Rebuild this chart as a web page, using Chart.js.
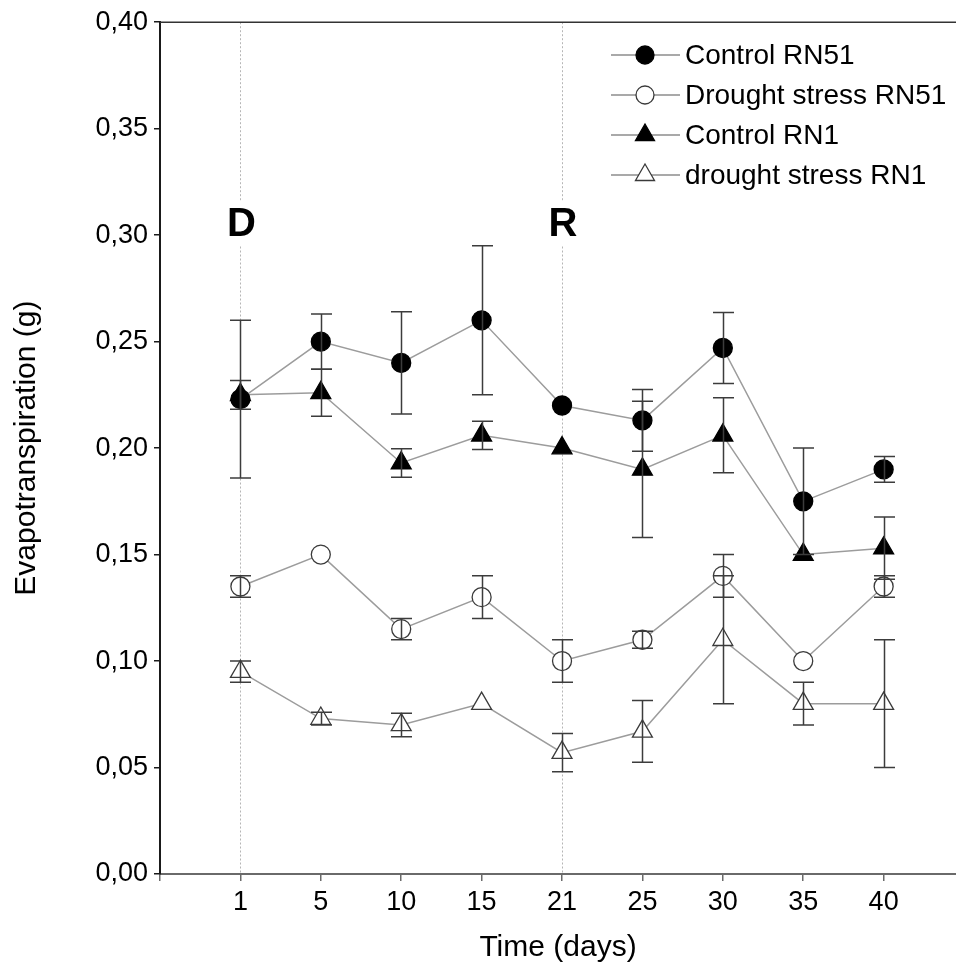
<!DOCTYPE html>
<html>
<head>
<meta charset="utf-8">
<script src="https://cdn.jsdelivr.net/npm/chart.js@4.4.0/dist/chart.umd.min.js"></script>
<style>
    html, body { margin: 0; padding: 0; background: #fff; }
</style>
</head>
<body>
<canvas id="chart" width="956" height="973"></canvas>
<script>
// ===============================
// Data
// ===============================
const days = ["1", "5", "10", "15", "21", "25", "30", "35", "40"];

const controlRN51 = [0.223, 0.250, 0.240, 0.260, 0.220, 0.213, 0.247, 0.175, 0.190];
const controlRN51Err = [0.037, 0.013, 0.024, 0.035, 0, 0.0145, 0.0167, 0.025, 0.006];

const droughtRN51 = [0.135, 0.150, 0.115, 0.130, 0.100, 0.110, 0.140, 0.100, 0.135];
const droughtRN51Err = [0.005, 0, 0.005, 0.010, 0.010, 0.004, 0.010, 0, 0.005];

const controlRN1 = [0.225, 0.226, 0.193, 0.206, 0.200, 0.190, 0.206, 0.150, 0.153];
const controlRN1Err = [0.0067, 0.011, 0.0067, 0.0066, 0, 0.032, 0.0176, 0, 0.0146];

const droughtRN1 = [0.095, 0.073, 0.070, 0.080, 0.057, 0.067, 0.110, 0.080, 0.080];
const droughtRN1Err = [0.005, 0.003, 0.0055, 0, 0.009, 0.0145, 0.030, 0.010, 0.030];

// vertical event lines: D = drought start, R = rewatering
const eventDays = ["1", "21"];
const eventLabels = ["D", "R"];
const eventLabelY = 0.305;

const FONT = "'Liberation Sans', Arial, sans-serif";

const toPoints = (vals) => vals.map((v, i) => ({ x: i + 1, y: v }));

function makeSet(label, vals, errs, style, filled, radius) {
    return {
        label,
        data: toPoints(vals),
        errors: errs,
        borderColor: "#9c9c9c",
        borderWidth: 1.5,
        tension: 0,
        pointStyle: style,
        pointRadius: radius,
        pointHoverRadius: radius,
        pointBackgroundColor: filled ? "#000" : "#fff",
        pointBorderColor: filled ? "#000" : "#3a3a3a",
        pointBorderWidth: 1.3,
        clip: false
    };
}

const datasets = [
    makeSet("Control RN51", controlRN51, controlRN51Err, "circle", true, 9.5),
    makeSet("Drought stress RN51", droughtRN51, droughtRN51Err, "circle", false, 9.5),
    makeSet("Control RN1", controlRN1, controlRN1Err, "triangle", true, 11.5),
    makeSet("drought stress RN1", droughtRN1, droughtRN1Err, "triangle", false, 11.5)
];

// ===============================
// Plugins
// ===============================
function drawMarker(ctx, style, x, y, r, fill, stroke) {
    ctx.save();
    ctx.beginPath();
    if (style === "circle") {
        ctx.arc(x, y, r, 0, Math.PI * 2);
    } else {
        const a = Math.PI * 2 / 3;
        for (let k = 0; k < 3; k++) {
            const px = x + Math.sin(k * a) * r;
            const py = y - Math.cos(k * a) * r;
            if (k === 0) ctx.moveTo(px, py); else ctx.lineTo(px, py);
        }
        ctx.closePath();
    }
    ctx.fillStyle = fill;
    ctx.fill();
    ctx.lineWidth = 1.3;
    ctx.strokeStyle = stroke;
    ctx.stroke();
    ctx.restore();
}

const eventLinesPlugin = {
    id: "eventLines",
    beforeDatasetsDraw(chart) {
        const { ctx, chartArea, scales } = chart;
        ctx.save();
        ctx.strokeStyle = "#b5b5b5";
        ctx.lineWidth = 1;
        ctx.setLineDash([2, 2]);
        eventDays.forEach(d => {
            const x = Math.round(scales.x.getPixelForValue(days.indexOf(d) + 1)) + 0.5;
            const yc = scales.y.getPixelForValue(eventLabelY);
            ctx.beginPath();
            ctx.moveTo(x, chartArea.top);
            ctx.lineTo(x, yc - 23);
            ctx.moveTo(x, yc + 22);
            ctx.lineTo(x, chartArea.bottom);
            ctx.stroke();
        });
        ctx.restore();
    },
    afterDraw(chart) {
        const { ctx, scales, chartArea } = chart;
        ctx.save();
        ctx.fillStyle = "#000";
        ctx.font = "bold 40px " + FONT;
        ctx.textAlign = "center";
        ctx.textBaseline = "middle";
        eventDays.forEach((d, i) => {
            const x = scales.x.getPixelForValue(days.indexOf(d) + 1);
            const y = scales.y.getPixelForValue(eventLabelY);
            ctx.fillText(eventLabels[i], x + 1, y);
        });

        // top frame line
        ctx.strokeStyle = "#333";
        ctx.lineWidth = 1.5;
        ctx.beginPath();
        ctx.moveTo(chartArea.left, chartArea.top);
        ctx.lineTo(chart.width, chartArea.top);
        ctx.stroke();
        ctx.restore();
    }
};

const errorBarsPlugin = {
    id: "errorBars",
    afterDatasetsDraw(chart) {
        const { ctx, scales } = chart;
        ctx.save();
        ctx.strokeStyle = "#3c3c3c";
        ctx.lineWidth = 1.5;
        for (let di = chart.data.datasets.length - 1; di >= 0; di--) {
            const ds = chart.data.datasets[di];
            const meta = chart.getDatasetMeta(di);
            meta.data.forEach((pt, i) => {
                const e = ds.errors[i];
                if (!e) return;
                const v = ds.data[i].y;
                const x = Math.round(pt.x) + 0.5;
                const yTop = scales.y.getPixelForValue(v + e);
                const yBot = scales.y.getPixelForValue(v - e);
                ctx.beginPath();
                ctx.moveTo(x, yTop);
                ctx.lineTo(x, yBot);
                ctx.moveTo(x - 10.5, yTop);
                ctx.lineTo(x + 10.5, yTop);
                ctx.moveTo(x - 10.5, yBot);
                ctx.lineTo(x + 10.5, yBot);
                ctx.stroke();
            });
        }
        ctx.restore();
    }
};

const legendPlugin = {
    id: "customLegend",
    afterDraw(chart) {
        const { ctx } = chart;
        const x0 = 611, x1 = 680, xm = 645, xt = 685;
        ctx.save();
        ctx.font = "28px " + FONT;
        ctx.textBaseline = "middle";
        ctx.fillStyle = "#000";
        chart.data.datasets.forEach((ds, i) => {
            const y = 55 + i * 40;
            ctx.strokeStyle = "#555";
            ctx.lineWidth = 1.2;
            ctx.beginPath();
            ctx.moveTo(x0, y);
            ctx.lineTo(x1, y);
            ctx.stroke();
            drawMarker(ctx, ds.pointStyle, xm, y, ds.pointStyle === "circle" ? 9 : 11,
                ds.pointBackgroundColor, ds.pointBorderColor);
            ctx.fillStyle = "#000";
            ctx.fillText(ds.label, xt, y + 1);
        });
        ctx.restore();
    }
};

// ===============================
// Chart
// ===============================
new Chart(document.getElementById("chart"), {
    type: "line",
    data: { datasets },
    plugins: [eventLinesPlugin, errorBarsPlugin, legendPlugin],
    options: {
        responsive: false,
        animation: false,
        devicePixelRatio: 1,
        layout: { autoPadding: false, padding: { top: 22, right: 0, left: 0, bottom: 0 } },
        plugins: {
            legend: { display: false },
            tooltip: { enabled: false }
        },
        scales: {
            x: {
                type: "linear",
                min: 0,
                max: 9.9,
                afterBuildTicks: (s) => {
                    s.ticks = [{ value: 0 }].concat(days.map((d, i) => ({ value: i + 1 })));
                },
                afterFit: (s) => {
                    s.height = 99;
                    s.paddingLeft = 0;
                    s.paddingRight = 0;
                },
                ticks: {
                    autoSkip: false,
                    maxRotation: 0,
                    padding: 5,
                    color: "#000",
                    font: { family: FONT, size: 27 },
                    callback: (v) => (v >= 1 ? days[v - 1] : "")
                },
                grid: { drawOnChartArea: false, drawTicks: true, tickLength: 7, color: "#6a6a6a", lineWidth: 1.5 },
                border: { color: "#6a6a6a", width: 2 },
                title: {
                    display: true,
                    text: "Time (days)",
                    color: "#000",
                    font: { family: FONT, size: 30 },
                    padding: { top: 2, bottom: 7 }
                }
            },
            y: {
                min: 0,
                max: 0.4,
                afterFit: (s) => { s.width = 160; },
                ticks: {
                    stepSize: 0.05,
                    padding: 6,
                    color: "#000",
                    font: { family: FONT, size: 27 },
                    callback: (v) => v.toFixed(2).replace(".", ",")
                },
                grid: { drawOnChartArea: false, drawTicks: true, tickLength: 6, color: "#1a1a1a", lineWidth: 1.5 },
                border: { color: "#1a1a1a", width: 2 },
                title: {
                    display: true,
                    text: "Evapotranspiration (g)",
                    color: "#000",
                    font: { family: FONT, size: 30 },
                    padding: { top: 9, bottom: 0 }
                }
            }
        }
    }
});
</script>
</body>
</html>
